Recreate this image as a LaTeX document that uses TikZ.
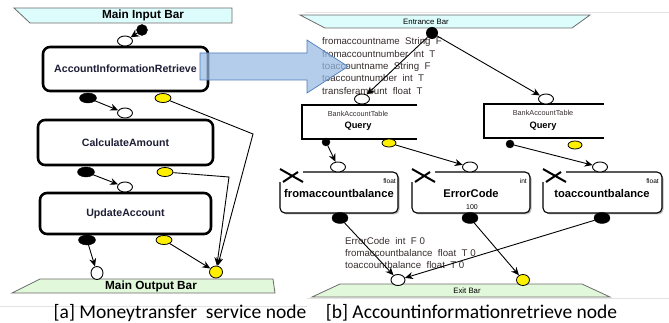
\documentclass[tikz,border=0pt]{standalone}
\usepackage{fontspec}
\setmainfont{Liberation Sans}
\newfontfamily\captionface{Carlito}
\usetikzlibrary{shapes.geometric,arrows.meta}
\definecolor{barcyan}{RGB}{221,253,253}
\definecolor{bargreen}{RGB}{226,248,218}
\definecolor{portyellow}{RGB}{255,240,0}
\definecolor{arrowblue}{RGB}{150,186,226}
\definecolor{arrowedge}{RGB}{79,124,189}
\definecolor{inknavy}{RGB}{30,30,55}
\definecolor{inkgray}{RGB}{55,45,45}
\begin{document}
\begin{tikzpicture}[x=1pt,y=-1pt,
  svc/.style={draw, line width=2.6pt, rounded corners=7pt, fill=white, inner sep=0pt,
              font=\fontsize{10.6}{12}\selectfont\bfseries, text=inknavy},
  hole/.style={ellipse, draw, fill=white, line width=0.9pt, minimum width=15pt, minimum height=10pt, inner sep=0pt},
  blk/.style={ellipse, draw, fill=black, minimum width=17pt, minimum height=10pt, inner sep=0pt},
  dotport/.style={circle, draw, fill=black, minimum size=8pt, inner sep=0pt},
  ylw/.style={ellipse, draw, line width=0.8pt, fill=portyellow, minimum width=16pt, minimum height=9pt, inner sep=0pt},
  flow/.style={line width=0.9pt, -{Stealth[length=8pt,width=7pt]}},
  bar/.style={draw=gray!85!black, line width=0.8pt},
  barlabel/.style={font=\fontsize{11.8}{13}\selectfont\bfseries, inner sep=0pt},
  smallbarlabel/.style={font=\fontsize{7.8}{9}\selectfont, inner sep=0pt},
  tablebox/.style={minimum width=#1, minimum height=33pt, inner sep=0pt},
  tableline/.style={line width=1.8pt},
  tablename/.style={font=\fontsize{7.3}{8}\selectfont, text=inkgray, inner sep=0pt},
  querytext/.style={font=\fontsize{9.3}{10}\selectfont\bfseries, inner sep=0pt},
  varshadow/.style={fill=gray!55, rounded corners=5pt},
  varbox/.style={draw, line width=1.1pt, rounded corners=5pt, fill=white, minimum width=#1, minimum height=41pt, inner sep=0pt},
  varname/.style={font=\fontsize{11.2}{12}\selectfont\bfseries, inner sep=0pt},
  vartype/.style={font=\fontsize{6.6}{7}\selectfont, inner sep=0pt, anchor=east},
  cross/.style={line width=2pt},
  paramtext/.style={font=\fontsize{9.7}{12.4}\selectfont, text=inkgray, align=left, inner sep=0pt, anchor=north west},
  captiontext/.style={font=\captionface\fontsize{19.5}{22}\selectfont, inner sep=0pt, anchor=base},
  frameline/.style={draw=gray!22, line width=0.8pt}
]
\useasboundingbox (0,0) rectangle (669,323);

% faint panel frame lines
\draw[frameline] (305,12) -- (669,12);
\draw[frameline] (307,298) -- (669,298);
\draw[frameline] (0,306) -- (307,306);

% ================= left panel: Moneytransfer service node =================
\draw[bar, fill=barcyan] (14,8) -- (232,8) -- (232,23) -- (30,23) -- cycle;
\node[barlabel] (inlabel) at (143,15.5) {Main Input Bar};

\draw[bar, fill=bargreen] (40,279) -- (273,279) -- (275,293) -- (12,293) -- cycle;
\node[barlabel] (outlabel) at (151,286) {Main Output Bar};

\node[svc, minimum width=165pt, minimum height=44pt] (air) at (125.5,69) {AccountInformationRetrieve};
\node[svc, minimum width=175pt, minimum height=45pt] (calc) at (125.5,142.5) {CalculateAmount};
\node[svc, minimum width=171pt, minimum height=41pt] (upd) at (125.5,213.5) {UpdateAccount};

% ports
\node[circle, draw, fill=black, minimum size=11pt, inner sep=0pt] (inB) at (142,30) {};
\node[hole] (airI) at (125,41) {};
\node[blk] (airB) at (88,98) {};
\node[ylw] (airY) at (163,98) {};
\node[hole] (calcI) at (125,113) {};
\node[blk] (calcB) at (86,172) {};
\node[ylw] (calcY) at (165,172) {};
\node[hole] (updI) at (125,187) {};
\node[blk] (updB) at (87,240) {};
\node[ylw] (updY) at (164,240) {};
\node[hole, minimum width=12pt, minimum height=13pt] (outW) at (97,273) {};
\node[ylw, minimum width=13pt, minimum height=12pt] (outY) at (216,272) {};

\coordinate (bendA) at (253,134);
\coordinate (bendB) at (229,177);

% data flow
\draw[line width=1.2pt, -{Stealth[length=8pt,width=8pt]}] (inB) -- (airI);
\draw[flow] (airB) -- (calcI);
\draw[flow] (calcB) -- (updI);
\draw[flow] (updB) -- (outW);
\draw[flow] (updY) -- (outY);
\draw[flow] (airY) -- (bendA) -- (outY);
\draw[flow] (calcY) -- (bendB) -- (outY);

% ================= right panel: Accountinformationretrieve node =================
\draw[bar, fill=barcyan] (300,15) -- (590,15) -- (572,28) -- (325,28) -- cycle;
\node[smallbarlabel] (entlabel) at (426,22) {Entrance Bar};

\draw[bar, fill=bargreen] (340,284) -- (582,284) -- (610,297) -- (312,297) -- cycle;
\node[smallbarlabel] (exitlabel) at (467,291) {Exit Bar};

\node[circle, fill=black, minimum size=12pt, inner sep=0pt] (entB) at (432,33) {};

\node[paramtext] (params) at (322,37.5) {fromaccountname\ \ String\ \ F\\fromaccountnumber\ \ int\ \ T\\toaccountname\ \ String\ \ F\\toaccountnumber\ \ int\ \ T\\transferamount\ \ float\ \ T};

% table queries
\node[tablebox=115pt] (q1) at (359.5,122) {};
\draw[tableline] (q1.north east) -- (q1.north west) -- (q1.south west) -- (q1.south east);
\node[tablename] (q1t) at (358,114) {BankAccountTable};
\node[querytext] (q1q) at (358,126.5) {Query};

\node[tablebox=120pt, minimum height=34pt] (q2) at (544,121) {};
\draw[tableline] (q2.north east) -- (q2.north west) -- (q2.south west) -- (q2.south east);
\node[tablename] (q2t) at (543,113) {BankAccountTable};
\node[querytext] (q2q) at (543,126.5) {Query};

\node[hole] (q1I) at (362,99) {};
\node[hole] (q2I) at (546,99) {};
\node[dotport] (q1B) at (326,142) {};
\node[ylw, minimum width=14pt, minimum height=8pt] (q1Y) at (389,143) {};
\node[dotport] (q2B) at (510,144) {};
\node[ylw, minimum width=14pt, minimum height=8pt] (q2Y) at (575,145) {};

% variables, with a soft drop shadow on the lower right
\fill[varshadow] (281.5,173.5) rectangle (399.5,214.5);
\fill[varshadow] (413.5,173.5) rectangle (531.5,214.5);
\fill[varshadow] (544.5,173.5) rectangle (663.5,214.5);
\node[varbox=118pt] (v1) at (339,192.5) {};
\node[varbox=118pt] (v2) at (471,192.5) {};
\node[varbox=119pt] (v3) at (602.5,192.5) {};

\fill[white] (277,168) rectangle (303,182.5);
\fill[white] (409,168) rectangle (435,182.5);
\fill[white] (540,168) rectangle (566,182.5);
\draw[cross] (280,169) -- (303,182) (283,182) -- (298,172);
\draw[cross] (412,169) -- (435,182) (415,182) -- (430,172);
\draw[cross] (543,169) -- (566,182) (546,182) -- (561,172);

\node[vartype] (v1t) at (396,181) {float};
\node[vartype] (v2t) at (527,181) {int};
\node[vartype] (v3t) at (659,181) {float};
\node[varname] (v1n) at (339,193) {fromaccountbalance};
\node[varname] (v2n) at (471,193) {ErrorCode};
\node[varname] (v3n) at (602,193) {toaccountbalance};
\node[font=\fontsize{7}{8}\selectfont, inner sep=0pt] (v2val) at (472,207) {100};

\node[hole] (v1I) at (338,167) {};
\node[hole] (v2I) at (470,167) {};
\node[hole] (v3I) at (600,167) {};
\node[blk, minimum width=16pt, minimum height=11pt] (v1O) at (340,218) {};
\node[blk, minimum width=16pt, minimum height=11pt] (v2O) at (470,218) {};
\node[blk, minimum width=16pt, minimum height=11pt] (v3O) at (602,218) {};

\node[hole, minimum width=14pt, minimum height=11pt] (exW) at (398,280) {};
\node[ylw, minimum width=13pt, minimum height=11pt] (exY) at (523,280) {};

\node[paramtext, font=\fontsize{9.7}{12}\selectfont] (results) at (345,237) {ErrorCode\ \ int\ \ F 0\\fromaccountbalance\ \ float\ \ T 0\\toaccountbalance\ \ float\ \ T 0};

% data flow
\draw[flow] (entB) -- (q1I);
\draw[flow] (entB) -- (q2I);
\draw[flow] (q1B) -- (v1I);
\draw[flow] (q1Y) -- (v2I);
\draw[flow] (q2B) -- (v3I);
\draw[flow] (v1O) -- (exW);
\draw[flow] (v3O) -- (exW);
\draw[flow] (v2O) -- (exY);

% zoom arrow from the service node to its expansion
\draw[arrowedge, line width=0.7pt, fill=arrowblue, fill opacity=0.72]
  (200,53) -- (307,53) -- (307,40) -- (348,66.5) -- (307,93) -- (307,80) -- (200,80) -- cycle;

% captions
\node[captiontext] (capa) at (180,318.5) {[a] Moneytransfer\ \ service node};
\node[captiontext] (capb) at (471.5,318.5) {[b] Accountinformationretrieve node};
\end{tikzpicture}
\end{document}
